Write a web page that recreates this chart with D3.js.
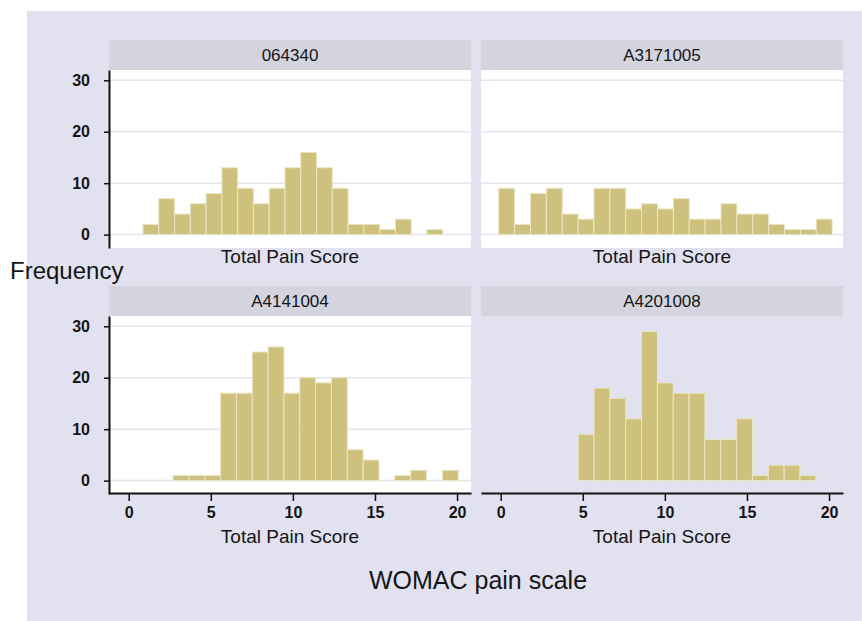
<!DOCTYPE html>
<html lang="en">
<head>
<meta charset="utf-8">
<title>WOMAC pain histograms</title>
<script src="https://d3js.org/d3.v7.js"></script>
<style>
	body { margin: 0; background: #fff; }
	svg text { font-family: "Liberation Sans", Arial, sans-serif; fill: #151515; }
</style>
</head>
<body>
<div id="chart"></div>
<script>
// panel names and histogram data
const panels = ["064340", "A3171005", "A4141004", "A4201008"];
const binStart = [0.87, -0.12, 2.7, 4.72];
const binWidth = [0.961, 0.967, 0.965, 0.965];
const counts = [
	[2, 7, 4, 6, 8, 13, 9, 6, 9, 13, 16, 13, 9, 2, 2, 1, 3, 0, 1],
	[9, 2, 8, 9, 4, 3, 9, 9, 5, 6, 5, 7, 3, 3, 6, 4, 4, 2, 1, 1, 3],
	[1, 1, 1, 17, 17, 25, 26, 17, 20, 19, 20, 6, 4, 0, 1, 2, 0, 2],
	[9, 18, 16, 12, 29, 19, 17, 17, 8, 8, 12, 1, 3, 3, 1]
];
const yTicks = [0, 10, 20, 30];
const xTicks = [0, 5, 10, 15, 20];

const W = 862, H = 621;
const svg = d3.select("#chart").append("svg")
	.attr("width", W).attr("height", H);

// outer graph region
svg.append("rect").attr("x", 27).attr("y", 11)
	.attr("width", W - 27).attr("height", H - 11)
	.attr("fill", "#e1e1ef");

const colX = [109, 481], rowY = [70, 316];
const pw = 362, ph = 178, stripH = 30;

const x = d3.scaleLinear().domain([-1.2, 20.85]).range([0, pw]);
const y = d3.scaleLinear().domain([-2.6, 32]).range([ph, 0]);

panels.forEach(function (name, i) {
	const col = i % 2, row = Math.floor(i / 2);
	const g = svg.append("g")
		.attr("transform", `translate(${colX[col]},${rowY[row]})`);

	// strip
	g.append("rect").attr("x", 0).attr("y", -stripH)
		.attr("width", pw).attr("height", stripH)
		.attr("fill", "#d4d4df");
	g.append("text").attr("x", pw / 2).attr("y", -stripH / 2 + 6)
		.attr("text-anchor", "middle").style("font-size", "17px")
		.text(name);

	// plot region (last panel keeps the graph colour)
	if (i < 3) {
		g.append("rect").attr("width", pw).attr("height", ph).attr("fill", "#fff");
		g.selectAll(".grid").data(yTicks).join("line")
			.attr("x1", 0).attr("x2", pw)
			.attr("y1", d => y(d)).attr("y2", d => y(d))
			.attr("stroke", "#e4e4ee").attr("stroke-width", 1.5);
	}

	// bars, keeping the bin index before dropping empty bins
	const bins = counts[i].map((v, j) => ({ v: v, j: j })).filter(d => d.v > 0);
	g.selectAll(".bar").data(bins).join("rect")
		.attr("x", d => x(binStart[i] + d.j * binWidth[i]))
		.attr("width", x(binWidth[i]) - x(0))
		.attr("y", d => y(d.v))
		.attr("height", d => y(0) - y(d.v))
		.attr("fill", "#cdc17d")
		.attr("stroke", "#ebe6c4")
		.attr("stroke-width", 1);

	// y axis on left column
	if (col === 0) {
		const ya = g.append("g")
			.call(d3.axisLeft(y).tickValues(yTicks).tickSize(5).tickSizeOuter(0).tickPadding(14));
		ya.select(".domain").attr("stroke", "#111").attr("stroke-width", 2);
		ya.selectAll(".tick line").attr("stroke", "#111").attr("stroke-width", 1.5);
		ya.selectAll("text").style("font-size", "16px").style("font-weight", "bold")
			.attr("fill", "#222");
	}

	// x axis on bottom row
	if (row === 1) {
		const xa = g.append("g").attr("transform", `translate(0,${ph - 1})`)
			.call(d3.axisBottom(x).tickValues(xTicks).tickSize(8).tickSizeOuter(0).tickPadding(6));
		xa.select(".domain").attr("stroke", "#111").attr("stroke-width", 2);
		xa.selectAll(".tick line").attr("stroke", "#111").attr("stroke-width", 1.5);
		xa.selectAll("text").style("font-size", "16px").style("font-weight", "bold")
			.attr("fill", "#222");
	}

	// x title under each panel
	g.append("text").attr("x", pw / 2).attr("y", row === 0 ? ph + 15 : ph + 49)
		.attr("text-anchor", "middle").style("font-size", "19px")
		.text("Total Pain Score");
});

// overall titles
svg.append("text").attr("x", 10).attr("y", 279)
	.style("font-size", "24px").text("Frequency");
svg.append("text").attr("x", 478).attr("y", 589)
	.attr("text-anchor", "middle").style("font-size", "25px")
	.text("WOMAC pain scale");
</script>
</body>
</html>
